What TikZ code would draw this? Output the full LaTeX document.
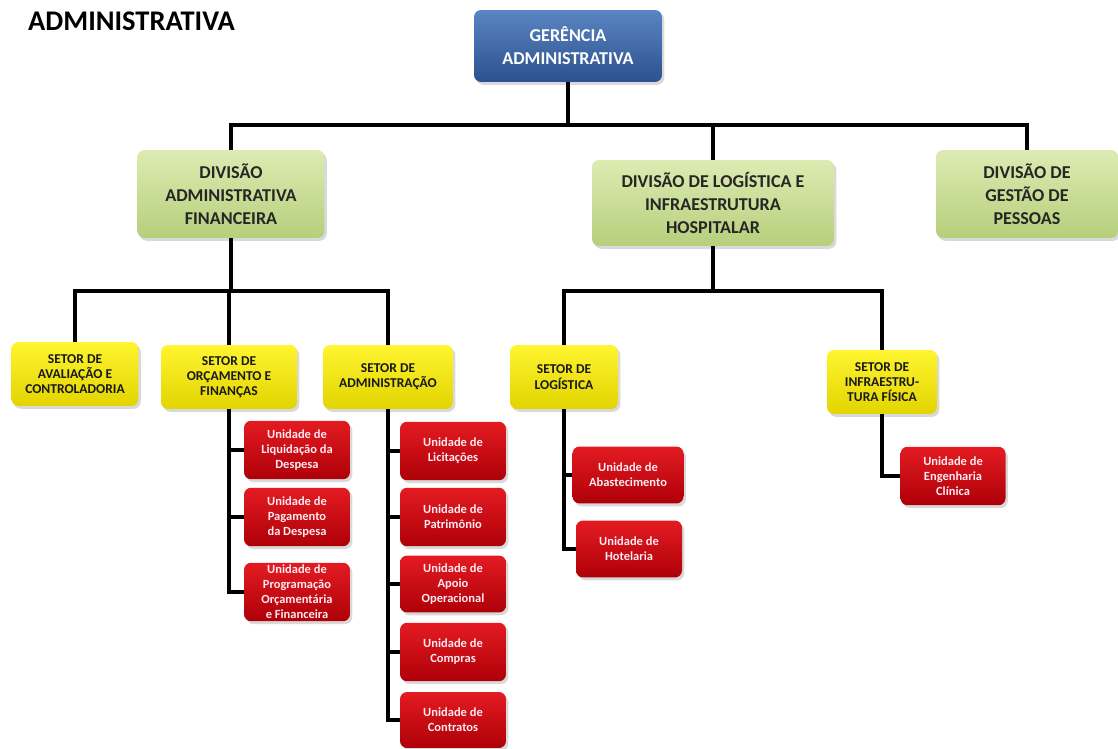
\documentclass[tikz,border=0pt]{standalone}
\usepackage{fontspec}
\setmainfont{Carlito}
\usepackage{tikz}
\usetikzlibrary{shadows}
\definecolor{azulclaro}{HTML}{5A84C2}
\definecolor{azulescuro}{HTML}{2C528E}
\definecolor{verdeclaro}{HTML}{DDEBB2}
\definecolor{verdeescuro}{HTML}{B6CF7C}
\definecolor{amareloclaro}{HTML}{FFF530}
\definecolor{amareloescuro}{HTML}{E2D400}
\definecolor{vermelhoclaro}{HTML}{E41B22}
\definecolor{vermelhoescuro}{HTML}{AE0008}
\definecolor{textorosa}{HTML}{FFEAF2}

\begin{document}
\begin{tikzpicture}[x=0.02cm,y=-0.02cm]
	\path [use as bounding box] (0,0) rectangle (1118,749);
	\tikzstyle{caixa} = [rounded corners=4pt, inner sep=0pt, align=center, drop shadow={shadow xshift=1.3pt, shadow yshift=-1.6pt, opacity=0.3}]
	\tikzstyle{gerencia} = [caixa, top color=azulclaro, bottom color=azulescuro, text=white, font=\fontsize{10.3}{13.2}\selectfont\bfseries]
	\tikzstyle{divisao} = [caixa, top color=verdeclaro, bottom color=verdeescuro, text=black!85, font=\fontsize{10.3}{13.2}\selectfont\bfseries]
	\tikzstyle{setor} = [caixa, top color=amareloclaro, bottom color=amareloescuro, text=black!90, minimum height=1.28cm, font=\fontsize{7.7}{8.7}\selectfont\bfseries]
	\tikzstyle{unidade} = [caixa, top color=vermelhoclaro, bottom color=vermelhoescuro, text=textorosa, minimum width=2.12cm, minimum height=1.17cm, font=\fontsize{7.1}{8.5}\selectfont\bfseries]
	\tikzstyle{ligacao} = [line width=2.2pt]

	\node[anchor=base west, font=\fontsize{16.2}{18}\selectfont\bfseries] (titulo) at (22,31) {ADMINISTRATIVA};

	\node[gerencia, minimum width=3.76cm, minimum height=1.44cm] (ger) at (568,46) {GERÊNCIA\\ADMINISTRATIVA};

	\node[divisao, minimum width=3.74cm, minimum height=1.76cm] (daf) at (231,194) {DIVISÃO\\ADMINISTRATIVA\\FINANCEIRA};
	\node[divisao, minimum width=4.84cm, minimum height=1.72cm] (dlog) at (713,203) {DIVISÃO DE LOGÍSTICA E\\INFRAESTRUTURA\\HOSPITALAR};
	\node[divisao, minimum width=3.64cm, minimum height=1.76cm] (dgp) at (1027,194) {DIVISÃO DE\\GESTÃO DE\\PESSOAS};

	\node[setor, minimum width=2.54cm] (ava) at (75,374) {SETOR DE\\AVALIAÇÃO E\\CONTROLADORIA};
	\node[setor, minimum width=2.72cm] (orc) at (229,377) {SETOR DE\\ORÇAMENTO E\\FINANÇAS};
	\node[setor, minimum width=2.60cm] (adm) at (388,377) {SETOR DE\\ADMINISTRAÇÃO};
	\node[setor, minimum width=2.16cm] (log) at (564,377) {SETOR DE\\LOGÍSTICA};
	\node[setor, minimum width=2.20cm] (inf) at (882,382) {SETOR DE\\INFRAESTRU-\\TURA FÍSICA};

	\node[unidade] (liq) at (297,450) {Unidade de\\Liquidação da\\Despesa};
	\node[unidade] (pag) at (297,517) {Unidade de\\Pagamento\\da Despesa};
	\node[unidade] (prog) at (297,592) {Unidade de\\Programação\\Orçamentária\\e Financeira};

	\node[unidade] (lic) at (453,451) {Unidade de\\Licitações};
	\node[unidade] (pat) at (453,517) {Unidade de\\Patrimônio};
	\node[unidade, minimum height=1.14cm] (apo) at (453,584) {Unidade de\\Apoio\\Operacional};
	\node[unidade] (com) at (453,652) {Unidade de\\Compras};
	\node[unidade, minimum height=1.12cm] (con) at (453,720) {Unidade de\\Contratos};

	\node[unidade, minimum width=2.22cm, minimum height=1.14cm] (aba) at (628,475) {Unidade de\\Abastecimento};
	\node[unidade, minimum height=1.14cm] (hot) at (629,549) {Unidade de\\Hotelaria};
	\node[unidade, minimum width=2.10cm] (eng) at (953,476) {Unidade de\\Engenharia\\Clínica};

	\coordinate (barrager) at (568,125);
	\coordinate (barradaf) at (231,291);
	\coordinate (barralog) at (713,291);

	\draw[ligacao] (ger) -- (barrager);
	\draw[ligacao] (daf.north) |- (barrager) -| (dgp.north);
	\draw[ligacao] (dlog.north) -- (dlog.north |- barrager);

	\draw[ligacao] (daf) -- (barradaf);
	\draw[ligacao] (ava.north) |- (barradaf) -| (adm.north);
	\draw[ligacao] (orc.north) -- (orc.north |- barradaf);

	\draw[ligacao] (dlog) -- (barralog);
	\draw[ligacao] (log.north) |- (barralog) -| (inf.north);

	\draw[ligacao] (orc.south) |- (liq.west);
	\draw[ligacao] (orc.south) |- (pag.west);
	\draw[ligacao] (orc.south) |- (prog.west);

	\draw[ligacao] (adm.south) |- (lic.west);
	\draw[ligacao] (adm.south) |- (pat.west);
	\draw[ligacao] (adm.south) |- (apo.west);
	\draw[ligacao] (adm.south) |- (com.west);
	\draw[ligacao] (adm.south) |- (con.west);

	\draw[ligacao] (log.south) |- (aba.west);
	\draw[ligacao] (log.south) |- (hot.west);

	\draw[ligacao] (inf.south) |- (eng.west);
\end{tikzpicture}
\end{document}
